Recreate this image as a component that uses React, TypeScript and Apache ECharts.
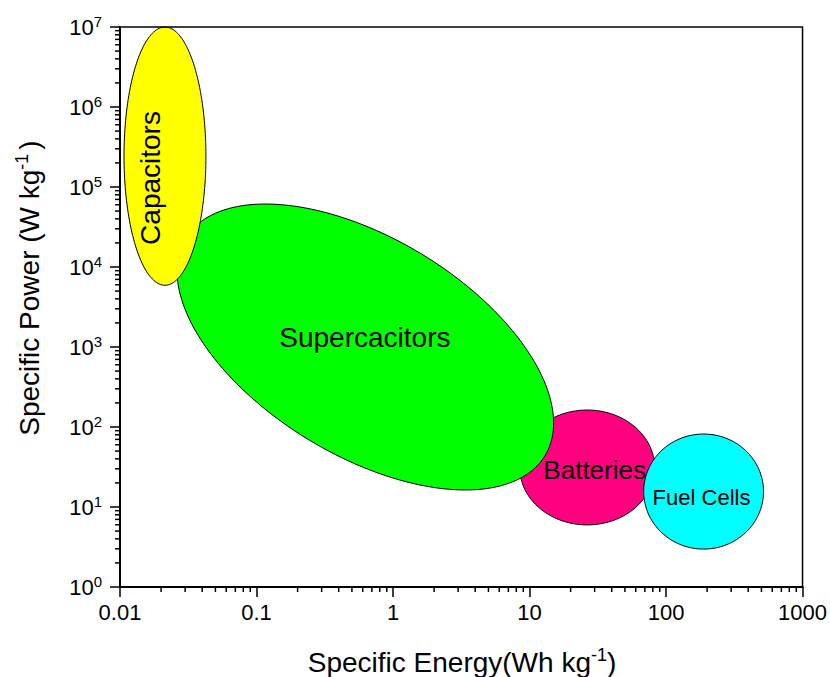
import React, { useEffect, useRef } from "react";
import * as echarts from "echarts";

// ---- axis ticks ----
const xTickLabels = ["0.01", "0.1", "1", "10", "100", "1000"];
const xMinExp = -2;
const xMaxExp = 3;
const yMinExp = 0;
const yMaxExp = 7;
const minorMultipliers = [2, 3, 4, 5, 6, 7, 8, 9];

// ---- regions (ellipses defined by centre and two conjugate semi-axis end points) ----
const regionNames = ["Batteries", "Supercacitors", "Capacitors", "Fuel Cells"];
const centerEnergy = [26.45, 0.627, 0.02135, 188.5];
const centerPower = [31.2, 1000, 2.43e5, 15.6];
const axisAEnergy = [82.5, 13.0, 0.0426, 518];
const axisAPower = [31.2, 44.0, 2.43e5, 15.6];
const axisBEnergy = [26.45, 1.614, 0.02135, 188.5];
const axisBPower = [163, 14580, 1.0e7, 81.7];
const labelEnergy = [30.0, 0.622, 0.0166, 182];
const labelPower = [29.0, 1296, 1.296e5, 13.3];

// styles
const regionColors = ["#ff007f", "#00ff00", "#ffff00", "#00ffff"];
const labelFontSizes = [26, 28, 28, 22];
const labelRotated = [false, false, true, false];

const FONT = "'Liberation Sans', Arial, Helvetica, sans-serif";

export default function App() {
  const ref = useRef<HTMLDivElement>(null);

  useEffect(() => {
    if (!ref.current) return;
    const chart = echarts.init(ref.current, undefined, { renderer: "svg" });

    const xMinor: number[][] = [];
    for (let k = xMinExp; k < xMaxExp; k++) {
      for (const m of minorMultipliers) xMinor.push([m * Math.pow(10, k), Math.pow(10, yMinExp)]);
    }
    const yMinor: number[][] = [];
    for (let k = yMinExp; k < yMaxExp; k++) {
      for (const m of minorMultipliers) yMinor.push([Math.pow(10, xMinExp), m * Math.pow(10, k)]);
    }

    const regionData = regionNames.map((n, i) => [
      centerEnergy[i],
      centerPower[i],
      axisAEnergy[i],
      axisAPower[i],
      axisBEnergy[i],
      axisBPower[i],
      labelEnergy[i],
      labelPower[i],
      i,
    ]);

    const option: any = {
      animation: false,
      backgroundColor: "#ffffff",
      grid: {
        left: 120,
        top: 27,
        width: 683,
        height: 560,
        show: true,
        borderColor: "#000",
        borderWidth: 1.5,
        backgroundColor: "transparent",
        z: 5,
      },
      xAxis: {
        type: "log",
        logBase: 10,
        min: Math.pow(10, xMinExp),
        max: Math.pow(10, xMaxExp),
        splitNumber: 5,
        z: 5,
        axisLine: { show: true, onZero: false, lineStyle: { color: "#000", width: 2 } },
        axisTick: { show: true, inside: false, length: 10, lineStyle: { color: "#000", width: 1.5 } },
        splitLine: { show: false },
        minorTick: { show: false },
        axisLabel: {
          margin: 14,
          color: "#000",
          fontSize: 22,
          fontFamily: FONT,
          formatter: (v: number) => xTickLabels[Math.round(Math.log10(v)) - xMinExp],
        },
      },
      yAxis: {
        type: "log",
        logBase: 10,
        min: Math.pow(10, yMinExp),
        max: Math.pow(10, yMaxExp),
        splitNumber: 7,
        z: 5,
        axisLine: { show: true, onZero: false, lineStyle: { color: "#000", width: 2 } },
        axisTick: { show: true, inside: false, length: 10, lineStyle: { color: "#000", width: 1.5 } },
        splitLine: { show: false },
        minorTick: { show: false },
        axisLabel: {
          margin: 18,
          color: "#000",
          formatter: (v: number) => `{b|10}{s|${Math.round(Math.log10(v))}}`,
          rich: {
            b: { fontSize: 22, fontFamily: FONT, color: "#000", lineHeight: 26 },
            s: { fontSize: 15, fontFamily: FONT, color: "#000", verticalAlign: "top", lineHeight: 15 },
          },
        },
      },
      graphic: [
        {
          type: "text",
          x: 462,
          y: 662,
          style: {
            text: "{t|Specific Energy(Wh kg}{s|-1}{t|)}",
            align: "center",
            verticalAlign: "middle",
            rich: {
              t: { fontSize: 28, fontFamily: FONT, fill: "#000", lineHeight: 32 },
              s: { fontSize: 18, fontFamily: FONT, fill: "#000", verticalAlign: "top", lineHeight: 18 },
            },
          },
        },
        {
          type: "text",
          x: 29,
          y: 288,
          rotation: Math.PI / 2,
          style: {
            text: "{t|Specific Power (W kg}{s|-1}{t|)}",
            align: "center",
            verticalAlign: "middle",
            rich: {
              t: { fontSize: 28, fontFamily: FONT, fill: "#000", lineHeight: 32 },
              s: { fontSize: 18, fontFamily: FONT, fill: "#000", verticalAlign: "top", lineHeight: 18, padding: [0, 4, 0, 0] },
            },
          },
        },
      ],
      series: [
        {
          type: "custom",
          name: "regions",
          z: 2,
          clip: false,
          encode: { x: [0, 2, 4, 6], y: [1, 3, 5, 7] },
          data: regionData,
          renderItem: (params: any, api: any) => {
            const c = api.coord([api.value(0), api.value(1)]);
            const a = api.coord([api.value(2), api.value(3)]);
            const b = api.coord([api.value(4), api.value(5)]);
            const l = api.coord([api.value(6), api.value(7)]);
            const idx = api.value(8);
            const ux = a[0] - c[0], uy = a[1] - c[1];
            const vx = b[0] - c[0], vy = b[1] - c[1];
            const pts: number[][] = [];
            const N = 180;
            for (let t = 0; t < N; t++) {
              const th = (t / N) * Math.PI * 2;
              pts.push([c[0] + ux * Math.cos(th) + vx * Math.sin(th), c[1] + uy * Math.cos(th) + vy * Math.sin(th)]);
            }
            return {
              type: "group",
              children: [
                {
                  type: "polygon",
                  shape: { points: pts },
                  style: { fill: regionColors[idx], stroke: "#000", lineWidth: 1 },
                },
                {
                  type: "text",
                  x: l[0],
                  y: l[1],
                  rotation: labelRotated[idx] ? Math.PI / 2 : 0,
                  style: {
                    text: regionNames[idx],
                    fill: "#000",
                    fontSize: labelFontSizes[idx],
                    fontFamily: FONT,
                    align: "center",
                    verticalAlign: "middle",
                  },
                },
              ],
            };
          },
        },
        {
          type: "custom",
          name: "xMinorTicks",
          z: 6,
          clip: false,
          silent: true,
          data: xMinor,
          renderItem: (params: any, api: any) => {
            const p = api.coord([api.value(0), api.value(1)]);
            return {
              type: "line",
              shape: { x1: p[0], y1: p[1], x2: p[0], y2: p[1] + 5 },
              style: { stroke: "#000", lineWidth: 1.5 },
            };
          },
        },
        {
          type: "custom",
          name: "yMinorTicks",
          z: 6,
          clip: false,
          silent: true,
          data: yMinor,
          renderItem: (params: any, api: any) => {
            const p = api.coord([api.value(0), api.value(1)]);
            return {
              type: "line",
              shape: { x1: p[0] - 5, y1: p[1], x2: p[0], y2: p[1] },
              style: { stroke: "#000", lineWidth: 1.5 },
            };
          },
        },
      ],
    };

    chart.setOption(option);
    return () => chart.dispose();
  }, []);

  return (
    <div
      ref={ref}
      style={{ position: "absolute", left: 0, top: 0, width: 830, height: 677, background: "#fff" }}
    />
  );
}
